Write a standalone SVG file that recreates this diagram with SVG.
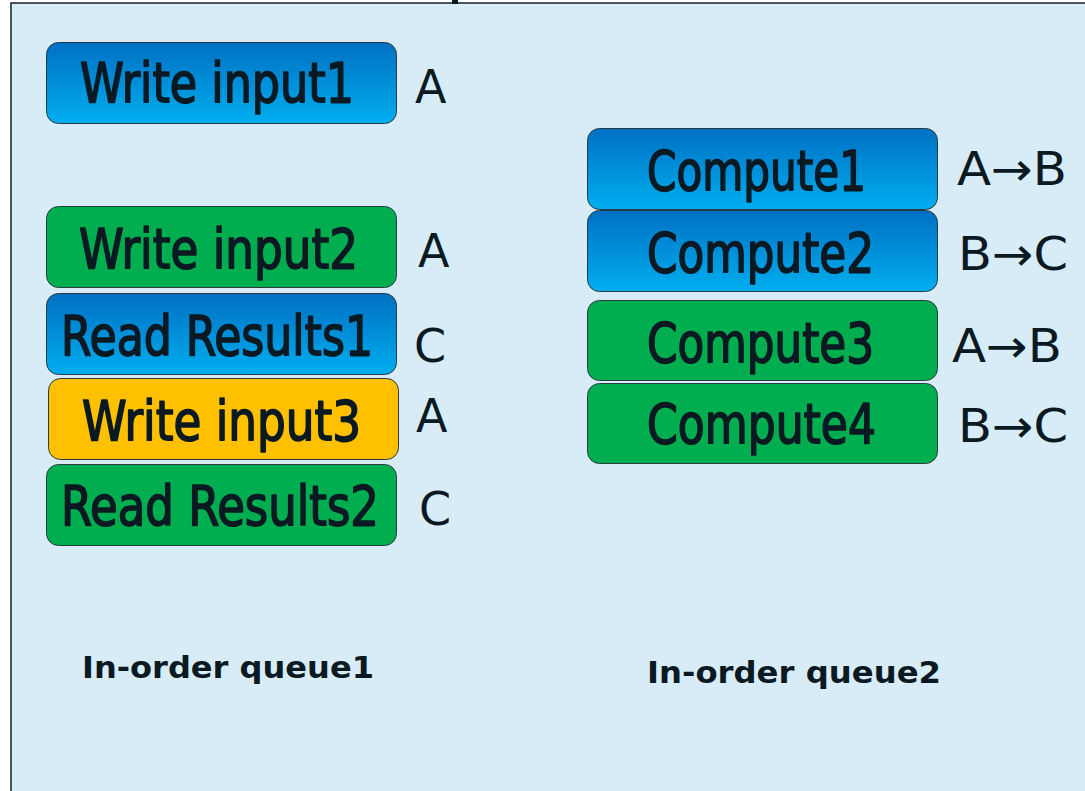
<svg xmlns="http://www.w3.org/2000/svg" width="1085" height="791" viewBox="0 0 1085 791">
  <defs>
    <linearGradient id="blueFill" x1="0" y1="0" x2="0" y2="1">
      <stop offset="0" stop-color="#0070C3"/>
      <stop offset="1" stop-color="#00AEEF"/>
    </linearGradient>
    <style>
      .box { stroke: #2a3a40; stroke-width: 1; }
      .blue { fill: url(#blueFill); }
      .green { fill: #00AE4F; }
      .yellow { fill: #FFC000; }
      .cmd { font-family: "Liberation Sans Narrow", "DejaVu Sans Condensed", "Liberation Sans", sans-serif; font-size: 55px; fill: #0A1922; stroke: #0A1922; stroke-width: 1.6px; stroke-linejoin: round; }
      .buf { font-family: "DejaVu Sans", "Verdana", sans-serif; font-size: 46px; fill: #0A1922; }
      .cap { font-family: "DejaVu Sans", "Verdana", sans-serif; font-weight: bold; font-size: 31px; fill: #0A1922; }
    </style>
  </defs>

  <!-- page background -->
  <rect x="0" y="0" width="1085" height="791" fill="#FFFFFF"/>
  <rect x="11" y="3" width="1090" height="800" fill="#D7ECF7" stroke="#16222B" stroke-width="1.5"/>
  <rect x="452" y="0" width="6" height="4" fill="#0A1922"/>

  <!-- queue 1 -->
  <g id="write-input1">
    <rect class="box blue" x="46.5" y="42.5" width="350" height="81" rx="12"/>
    <text class="cmd" x="80" y="102" textLength="274" lengthAdjust="spacingAndGlyphs">Write input1</text>
    <text class="buf" x="415" y="103">A</text>
  </g>
  <g id="write-input2">
    <rect class="box green" x="46.5" y="206.5" width="350" height="81" rx="12"/>
    <text class="cmd" x="79" y="268" textLength="279" lengthAdjust="spacingAndGlyphs">Write input2</text>
    <text class="buf" x="418" y="267">A</text>
  </g>
  <g id="read-results1">
    <rect class="box blue" x="46.5" y="293.5" width="350" height="81" rx="12"/>
    <text class="cmd" x="61" y="355" textLength="312" lengthAdjust="spacingAndGlyphs">Read Results1</text>
    <text class="buf" x="414" y="362">C</text>
  </g>
  <g id="write-input3">
    <rect class="box yellow" x="48.5" y="378.5" width="350" height="81" rx="12"/>
    <text class="cmd" x="82" y="440" textLength="279" lengthAdjust="spacingAndGlyphs">Write input3</text>
    <text class="buf" x="416" y="432">A</text>
  </g>
  <g id="read-results2">
    <rect class="box green" x="46.5" y="464.5" width="350" height="81" rx="12"/>
    <text class="cmd" x="61" y="525" textLength="318" lengthAdjust="spacingAndGlyphs">Read Results2</text>
    <text class="buf" x="419" y="525">C</text>
  </g>

  <!-- queue 2 -->
  <g id="compute1">
    <rect class="box blue" x="587.5" y="128.5" width="350" height="81" rx="12"/>
    <text class="cmd" x="647" y="190" textLength="219" lengthAdjust="spacingAndGlyphs">Compute1</text>
    <text class="buf" x="957" y="185" textLength="110" lengthAdjust="spacingAndGlyphs">A→B</text>
  </g>
  <g id="compute2">
    <rect class="box blue" x="587.5" y="210.5" width="350" height="81" rx="12"/>
    <text class="cmd" x="647" y="272" textLength="227" lengthAdjust="spacingAndGlyphs">Compute2</text>
    <text class="buf" x="958" y="270" textLength="110" lengthAdjust="spacingAndGlyphs">B→C</text>
  </g>
  <g id="compute3">
    <rect class="box green" x="587.5" y="300.5" width="350" height="80" rx="12"/>
    <text class="cmd" x="647" y="362" textLength="227" lengthAdjust="spacingAndGlyphs">Compute3</text>
    <text class="buf" x="952" y="362" textLength="110" lengthAdjust="spacingAndGlyphs">A→B</text>
  </g>
  <g id="compute4">
    <rect class="box green" x="587.5" y="383.5" width="350" height="80" rx="12"/>
    <text class="cmd" x="647" y="443" textLength="229" lengthAdjust="spacingAndGlyphs">Compute4</text>
    <text class="buf" x="958" y="442" textLength="110" lengthAdjust="spacingAndGlyphs">B→C</text>
  </g>

  <!-- queue captions -->
  <g id="queue1-caption">
    <text class="cap" x="82" y="678" textLength="292" lengthAdjust="spacingAndGlyphs">In-order queue1</text>
  </g>
  <g id="queue2-caption">
    <text class="cap" x="647" y="683" textLength="294" lengthAdjust="spacingAndGlyphs">In-order queue2</text>
  </g>

  <g id="connectors"/>
</svg>
